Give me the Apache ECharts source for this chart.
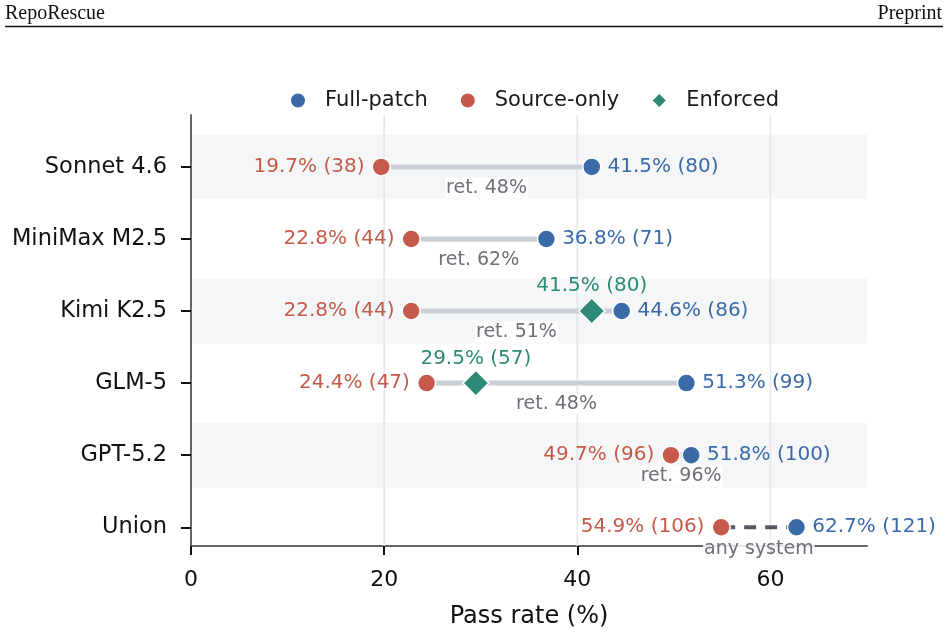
<!DOCTYPE html>
<html>
<head>
<meta charset="utf-8">
<script src="https://cdn.jsdelivr.net/npm/echarts@6/dist/echarts.min.js"></script>
<style>
  html, body { margin: 0; padding: 0; background: #fff; }
  #main { width: 948px; height: 634px; }
</style>
</head>
<body>
<div id="main"></div>
<script>
// data
var rows = ['Sonnet 4.6', 'MiniMax M2.5', 'Kimi K2.5', 'GLM-5', 'GPT-5.2', 'Union'];
var fullRate = [41.5, 36.8, 44.6, 51.3, 51.8, 62.7];
var fullCount = [80, 71, 86, 99, 100, 121];
var srcRate = [19.7, 22.8, 22.8, 24.4, 49.7, 54.9];
var srcCount = [38, 44, 44, 47, 96, 106];
var enfRate = [null, null, 41.5, 29.5, null, null];
var enfCount = [null, null, 80, 57, null, null];
var gapLabels = ['ret. 48%', 'ret. 62%', 'ret. 51%', 'ret. 48%', 'ret. 96%', 'any system'];
var xTicks = [0, 20, 40, 60];
var shadedRows = [0, 2, 4];

var BLUE = '#3a6ba8', RED = '#c65a4a', GREEN = '#2e8a76', GREY = '#6c7079';
var FONT = 'DejaVu Sans';
var xMin = 0, xMax = 70, yMin = -0.72, yMax = 5.26;

var myChart = echarts.init(document.getElementById('main'));

var fullData = rows.map(function (r, i) { return [fullRate[i], i, fullCount[i]]; });
var srcData = rows.map(function (r, i) { return [srcRate[i], i, srcCount[i]]; });
var enfData = [];
rows.forEach(function (r, i) {
    if (enfRate[i] != null) enfData.push([enfRate[i], i, enfCount[i]]);
});
var linkData = rows.map(function (r, i) { return [srcRate[i], fullRate[i], i]; });

function rateLabel(p) {
    return p.value[0].toFixed(1) + '% (' + p.value[2] + ')';
}

var option = {
    backgroundColor: '#fff',
    animation: false,
    textStyle: { fontFamily: FONT },
    graphic: [
        { type: 'text', left: 5, top: 4, style: { text: 'RepoRescue', font: '20px "Liberation Serif"', fill: '#111' } },
        { type: 'text', right: 6, top: 4, style: { text: 'Preprint', font: '20px "Liberation Serif"', fill: '#111' } },
        { type: 'line', shape: { x1: 5, y1: 26.5, x2: 943, y2: 26.5 }, style: { stroke: '#111', lineWidth: 1.5 } }
    ],
    legend: {
        data: ['Full-patch', 'Source-only', 'Enforced'],
        left: 284,
        top: 85,
        itemWidth: 16,
        itemHeight: 16,
        itemGap: 31,
        textStyle: { fontSize: 21, color: '#1a1a1a', fontFamily: FONT, padding: [0, 0, 0, 14] }
    },
    grid: { left: 191, right: 81, top: 115, bottom: 88 },
    xAxis: {
        type: 'value',
        min: xMin,
        max: xMax,
        name: 'Pass rate (%)',
        nameLocation: 'middle',
        nameGap: 59,
        nameTextStyle: { fontSize: 24, color: '#111', fontFamily: FONT },
        axisLine: { show: true, onZero: false, lineStyle: { color: '#666', width: 2 } },
        axisTick: { show: true, length: 9, customValues: xTicks, lineStyle: { color: '#111', width: 2 } },
        axisLabel: { customValues: xTicks, fontSize: 22, color: '#111', margin: 23, fontFamily: FONT },
        splitLine: { show: false }
    },
    yAxis: {
        type: 'value',
        inverse: true,
        min: yMin,
        max: yMax,
        axisLine: { show: true, onZero: false, lineStyle: { color: '#666', width: 2 } },
        axisTick: { show: true, length: 10, customValues: [0, 1, 2, 3, 4, 5], lineStyle: { color: '#111', width: 2 } },
        axisLabel: {
            customValues: [0, 1, 2, 3, 4, 5],
            fontSize: 22.5, color: '#111', margin: 24, fontFamily: FONT,
            formatter: function (v) { return rows[Math.round(v)]; }
        },
        splitLine: { show: false }
    },
    series: [
        {
            // shaded row bands
            type: 'custom',
            z: 0,
            silent: true,
            data: shadedRows.map(function (i) { return [i]; }),
            renderItem: function (params, api) {
                var i = api.value(0);
                var a = api.coord([xMin, i - 0.45]);
                var b = api.coord([xMax, i + 0.45]);
                return {
                    type: 'rect',
                    shape: { x: a[0], y: Math.min(a[1], b[1]), width: b[0] - a[0], height: Math.abs(b[1] - a[1]) },
                    style: { fill: '#f5f6f8' }
                };
            }
        },
        {
            // vertical grid lines
            type: 'custom',
            z: 1,
            silent: true,
            data: xTicks.filter(function (v) { return v > xMin; }).map(function (v) { return [v]; }),
            renderItem: function (params, api) {
                var a = api.coord([api.value(0), yMin]);
                var b = api.coord([api.value(0), yMax]);
                return {
                    type: 'line',
                    shape: { x1: a[0], y1: a[1], x2: b[0], y2: b[1] },
                    style: { stroke: '#e3e6eb', lineWidth: 1.5 }
                };
            }
        },
        {
            // connectors + retention labels
            type: 'custom',
            z: 2,
            silent: true,
            data: linkData,
            renderItem: function (params, api) {
                var i = api.value(2);
                var a = api.coord([api.value(0), i]);
                var b = api.coord([api.value(1), i]);
                var union = (i === rows.length - 1);
                return {
                    type: 'group',
                    children: [
                        {
                            type: 'line',
                            shape: { x1: a[0], y1: a[1], x2: b[0], y2: b[1] },
                            style: union
                                ? { stroke: '#555a61', lineWidth: 4, lineDash: [12, 9], lineDashOffset: -2 }
                                : { stroke: '#c9ced6', lineWidth: 5 }
                        },
                        {
                            type: 'text',
                            z2: 10,
                            style: {
                                text: gapLabels[i],
                                x: (a[0] + b[0]) / 2,
                                y: a[1] + (union ? 22 : 21),
                                align: 'center',
                                verticalAlign: 'middle',
                                font: '19px "DejaVu Sans"',
                                fill: GREY,
                                backgroundColor: 'rgba(255,255,255,0.85)',
                                padding: [1, 1]
                            }
                        }
                    ]
                };
            }
        },
        {
            name: 'Source-only',
            type: 'scatter',
            z: 3,
            symbol: 'circle',
            symbolSize: 18,
            itemStyle: { color: RED, borderColor: '#fff', borderWidth: 1.5, opacity: 1 },
            label: { show: true, position: 'left', distance: 7, formatter: rateLabel, color: RED, fontSize: 20, fontFamily: FONT },
            data: srcData
        },
        {
            name: 'Full-patch',
            type: 'scatter',
            z: 3,
            symbol: 'circle',
            symbolSize: 18,
            itemStyle: { color: BLUE, borderColor: '#fff', borderWidth: 1.5, opacity: 1 },
            label: { show: true, position: 'right', distance: 6, formatter: rateLabel, color: BLUE, fontSize: 20, fontFamily: FONT },
            data: fullData
        },
        {
            name: 'Enforced',
            type: 'scatter',
            z: 4,
            symbol: 'diamond',
            symbolSize: 26,
            itemStyle: { color: GREEN, borderColor: '#fff', borderWidth: 1.5, opacity: 1 },
            label: { show: true, position: 'top', distance: 1, formatter: rateLabel, color: GREEN, fontSize: 20, fontFamily: FONT },
            data: enfData
        }
    ]
};

myChart.setOption(option);
</script>
</body>
</html>
